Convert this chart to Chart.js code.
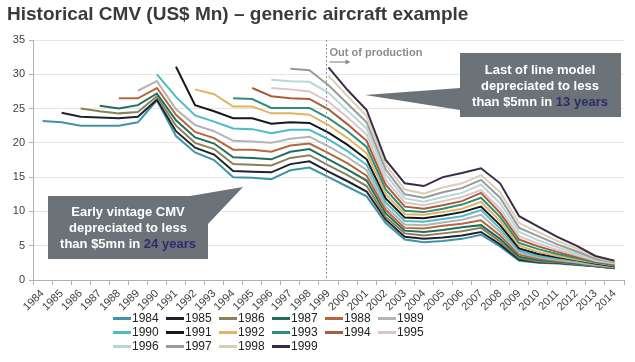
<!DOCTYPE html>
<html>
<head>
<meta charset="utf-8">
<script src="https://cdn.jsdelivr.net/npm/chart.js@4"></script>
<style>
  body { margin: 0; background: #fff; font-family: "Liberation Sans", Arial, sans-serif; }
  #wrap { position: relative; width: 635px; height: 362px; overflow: hidden; }
  #title { position: absolute; left: 7px; top: 3px; font-size: 19px; font-weight: bold; color: #3a3a3a; white-space: nowrap; }
  #legend { position: absolute; left: 113px; top: 311px; display: grid; grid-template-columns: repeat(6, 53px); grid-auto-rows: 14px; font-size: 12px; color: #222; }
  #legend .item { display: flex; align-items: center; white-space: nowrap; }
  #legend .sw { display: inline-block; width: 18px; height: 3px; margin-right: 1px; }
</style>
</head>
<body>
<div id="wrap">
  <canvas id="chart" width="635" height="362"></canvas>
  <div id="title">Historical CMV (US$ Mn) – generic aircraft example</div>
  <div id="legend"></div>
</div>
<script>
const years = ['1984', '1985', '1986', '1987', '1988', '1989', '1990', '1991', '1992', '1993', '1994',
    '1995', '1996', '1997', '1998', '1999', '2000', '2001', '2002', '2003', '2004', '2005', '2006',
    '2007', '2008', '2009', '2010', '2011', '2012', '2013', '2014'];

const yTicks = [0, 5, 10, 15, 20, 25, 30, 35];

const _ = null;
const v1984 = [23.2, 23.0, 22.5, 22.5, 22.5, 23.0, 26.2, 21.0, 18.6, 17.5, 15.0, 14.9, 14.7, 16.0, 16.4, 15.0, 13.6, 12.2, 8.3, 5.9, 5.5, 5.7, 6.0, 6.6, 4.9, 2.8, 2.5, 2.4, 2.2, 2.0, 1.7];
const v1985 = [_, 24.4, 23.8, 23.7, 23.6, 23.8, 26.3, 21.7, 19.3, 18.3, 15.9, 15.8, 15.7, 16.9, 17.3, 15.8, 14.4, 12.9, 8.8, 6.3, 6.0, 6.2, 6.5, 7.0, 5.2, 3.0, 2.6, 2.5, 2.25, 2.0, 1.7];
const v1986 = [_, _, 25.0, 24.6, 24.3, 24.5, 26.8, 22.5, 20.0, 19.1, 16.9, 16.8, 16.7, 17.8, 18.2, 16.7, 15.3, 13.7, 9.2, 6.8, 6.5, 6.8, 7.1, 7.6, 5.6, 3.2, 2.7, 2.6, 2.3, 2.05, 1.75];
const v1987 = [_, _, _, 25.4, 25.0, 25.5, 27.2, 23.3, 20.8, 19.9, 17.9, 17.8, 17.6, 18.7, 19.1, 17.6, 16.1, 14.5, 9.7, 7.2, 7.0, 7.3, 7.7, 8.0, 6.0, 3.4, 2.9, 2.7, 2.4, 2.1, 1.8];
const v1988 = [_, _, _, _, 26.5, 26.5, 28.0, 24.1, 21.6, 20.7, 19.0, 19.0, 18.7, 19.6, 19.9, 18.5, 17.0, 15.2, 10.2, 7.6, 7.5, 7.9, 8.2, 8.7, 6.5, 3.7, 3.1, 2.8, 2.5, 2.15, 1.85];
const v1989 = [_, _, _, _, _, 27.6, 29.0, 24.9, 22.6, 21.7, 20.3, 20.2, 20.0, 20.6, 20.9, 19.5, 17.9, 16.0, 10.7, 8.1, 8.0, 8.4, 8.8, 9.5, 7.0, 4.0, 3.3, 2.9, 2.6, 2.2, 1.9];
const v1990 = [_, _, _, _, _, _, 30.0, 26.7, 24.0, 23.1, 22.1, 22.0, 21.4, 21.9, 21.9, 20.5, 18.8, 16.8, 11.3, 8.6, 8.5, 8.9, 9.3, 10.2, 7.5, 4.3, 3.5, 3.1, 2.8, 2.3, 1.95];
const v1991 = [_, _, _, _, _, _, _, 31.1, 25.5, 24.6, 23.6, 23.6, 22.8, 23.0, 22.9, 21.5, 19.7, 17.6, 11.9, 9.1, 9.0, 9.4, 9.9, 10.7, 8.0, 4.6, 3.8, 3.3, 2.9, 2.4, 2.0];
const v1992 = [_, _, _, _, _, _, _, _, 27.8, 27.1, 25.3, 25.3, 24.3, 24.3, 24.1, 22.6, 20.7, 18.5, 12.5, 9.6, 9.5, 9.9, 10.4, 11.4, 8.6, 5.0, 4.1, 3.5, 3.0, 2.5, 2.1];
const v1993 = [_, _, _, _, _, _, _, _, _, _, 26.5, 26.4, 25.1, 25.1, 25.1, 23.6, 21.7, 19.4, 13.2, 10.1, 9.9, 10.4, 11.0, 12.0, 9.2, 5.4, 4.5, 3.8, 3.2, 2.6, 2.2];
const v1994 = [_, _, _, _, _, _, _, _, _, _, _, 28.0, 26.8, 26.5, 26.4, 24.9, 22.7, 20.3, 13.9, 10.7, 10.4, 10.9, 11.5, 12.7, 9.8, 5.9, 4.9, 4.1, 3.4, 2.7, 2.3];
const v1995 = [_, _, _, _, _, _, _, _, _, _, _, _, 28.0, 27.8, 27.5, 26.0, 23.7, 21.2, 14.6, 11.3, 10.9, 11.5, 12.1, 13.1, 10.4, 6.4, 5.3, 4.4, 3.6, 2.8, 2.4];
const v1996 = [_, _, _, _, _, _, _, _, _, _, _, _, 29.2, 29.0, 28.9, 27.3, 24.7, 22.1, 15.4, 11.9, 11.4, 12.1, 12.7, 13.9, 11.2, 7.0, 5.8, 4.8, 3.9, 2.9, 2.5];
const v1997 = [_, _, _, _, _, _, _, _, _, _, _, _, _, 30.8, 30.6, 28.4, 25.7, 23.0, 16.1, 12.5, 12.0, 12.8, 13.4, 14.6, 12.0, 7.6, 6.4, 5.2, 4.2, 3.1, 2.6];
const v1998 = [_, _, _, _, _, _, _, _, _, _, _, _, _, _, _, 29.8, 26.8, 23.9, 16.8, 13.2, 12.6, 13.5, 14.1, 15.3, 12.8, 8.3, 7.0, 5.7, 4.6, 3.3, 2.7];
const v1999 = [_, _, _, _, _, _, _, _, _, _, _, _, _, _, _, 31.0, 27.7, 24.8, 17.5, 14.1, 13.7, 15.0, 15.6, 16.3, 14.1, 9.3, 7.8, 6.3, 5.0, 3.5, 2.8];

const vintages = ['1984', '1985', '1986', '1987', '1988', '1989', '1990', '1991',
    '1992', '1993', '1994', '1995', '1996', '1997', '1998', '1999'];
const series = [v1984, v1985, v1986, v1987, v1988, v1989, v1990, v1991,
    v1992, v1993, v1994, v1995, v1996, v1997, v1998, v1999];

const colors = ['#3f95a6', '#1f2330', '#8c8058', '#1f6f5c', '#b5683e', '#b4b4b4', '#4dbac4', '#16181f',
    '#e2b462', '#2e8e78', '#a85c38', '#dcc4c8', '#b5d8d6', '#9a9a9a', '#dacfb4', '#3a2a48'];

const FONT = '"Liberation Sans", Arial, sans-serif';

// callouts, dashed marker, etc.
const notes = {
    id: 'notes',
    afterDatasetsDraw(chart) {
        const ctx = chart.ctx;
        const area = chart.chartArea;
        const x = chart.scales.x.getPixelForValue(15) - 2;

        ctx.save();
        ctx.strokeStyle = '#9a9a9a';
        ctx.lineWidth = 1;
        ctx.setLineDash([2, 2]);
        ctx.beginPath();
        ctx.moveTo(x, area.top);
        ctx.lineTo(x, area.bottom);
        ctx.stroke();
        ctx.setLineDash([]);

        ctx.fillStyle = '#8c8c8c';
        ctx.font = 'bold 11px ' + FONT;
        ctx.textAlign = 'left';
        ctx.textBaseline = 'alphabetic';
        ctx.fillText('Out of production', x + 3, area.top + 16);
        ctx.strokeStyle = '#8c8c8c';
        ctx.lineWidth = 1.2;
        ctx.beginPath();
        ctx.moveTo(x + 3, area.top + 22);
        ctx.lineTo(x + 22, area.top + 22);
        ctx.stroke();
        ctx.beginPath();
        ctx.moveTo(x + 24, area.top + 22);
        ctx.lineTo(x + 19, area.top + 19.5);
        ctx.lineTo(x + 19, area.top + 24.5);
        ctx.closePath();
        ctx.fill();

        callout(ctx, [48, 196, 160, 63], [[190, 196], [243, 187], [208, 224], [208, 196]],
            ['Early vintage CMV', 'depreciated to less', ['than $5mn in ', '24 years']], 128, 212);
        callout(ctx, [460, 53, 161, 64], [[460, 88], [365, 95], [460, 110]],
            ['Last of line model', 'depreciated to less', ['than $5mn in ', '13 years']], 540, 70);
        ctx.restore();
    }
};

function callout(ctx, box, tip, lines, cx, y0) {
    ctx.fillStyle = '#6b7378';
    ctx.fillRect(box[0], box[1], box[2], box[3]);
    ctx.beginPath();
    ctx.moveTo(tip[0][0], tip[0][1]);
    tip.slice(1).forEach(p => ctx.lineTo(p[0], p[1]));
    ctx.closePath();
    ctx.fill();

    ctx.font = 'bold 13px ' + FONT;
    ctx.textBaseline = 'middle';
    ctx.textAlign = 'left';
    lines.forEach((line, i) => {
        const y = y0 + i * 16;
        const parts = Array.isArray(line) ? line : [line];
        const w = parts.reduce((s, p) => s + ctx.measureText(p).width, 0);
        let px = cx - w / 2;
        parts.forEach((p, j) => {
            ctx.fillStyle = j === 1 ? '#2c2c6c' : '#ffffff';
            ctx.fillText(p, px, y);
            px += ctx.measureText(p).width;
        });
    });
}

const datasets = series.map((data, i) => ({
    label: vintages[i],
    data: data,
    borderColor: colors[i],
    backgroundColor: colors[i],
    borderWidth: 2,
    pointRadius: 0,
    tension: 0,
    fill: false,
    order: series.length - i
}));

new Chart(document.getElementById('chart'), {
    type: 'line',
    data: { labels: years, datasets: datasets },
    options: {
        responsive: false,
        animation: false,
        layout: { padding: { top: 40, right: 11, left: 0, bottom: 0 } },
        plugins: {
            legend: { display: false },
            tooltip: { enabled: false }
        },
        scales: {
            x: {
                offset: true,
                grid: { offset: true, drawOnChartArea: false, drawTicks: true, tickLength: 5, tickColor: '#b0b0b0' },
                border: { color: '#b0b0b0' },
                ticks: { autoSkip: false, minRotation: 45, maxRotation: 45, padding: 2, color: '#404040', font: { family: FONT, size: 11 } },
                afterFit: s => { s.height = 82; }
            },
            y: {
                min: 0,
                max: 35,
                afterBuildTicks: s => { s.ticks = yTicks.map(v => ({ value: v })); },
                grid: { color: '#e6e6e6', tickLength: 4, tickColor: '#b0b0b0' },
                border: { color: '#b0b0b0' },
                ticks: { padding: 4, color: '#404040', font: { family: FONT, size: 11 } },
                afterFit: s => { s.width = 33; }
            }
        }
    },
    plugins: [notes]
});

const legendEl = document.getElementById('legend');
vintages.forEach((name, i) => {
    const item = document.createElement('div');
    item.className = 'item';
    item.innerHTML = '<span class="sw" style="background:' + colors[i] + '"></span>' + name;
    legendEl.appendChild(item);
});
</script>
</body>
</html>
